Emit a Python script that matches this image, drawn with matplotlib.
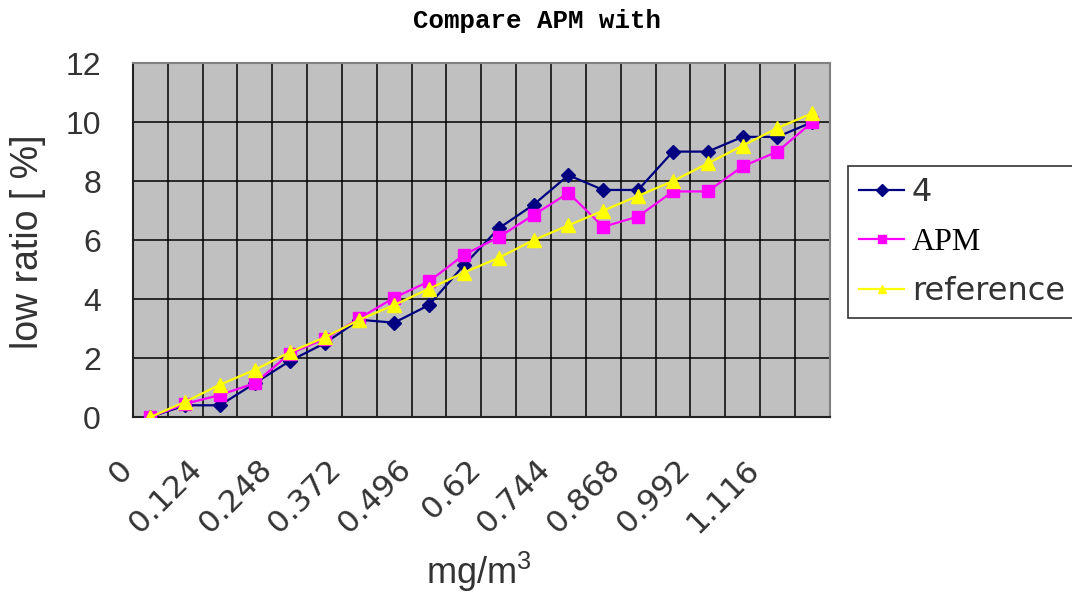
import matplotlib
matplotlib.use("Agg")
import matplotlib.pyplot as plt
import matplotlib.transforms as mtransforms
import numpy as np

plt.rcParams['font.family'] = ['Liberation Sans', 'DejaVu Sans']
plt.rcParams['mathtext.default'] = 'regular'

# concentration categories (mg/m3), 20 steps of 0.062
categories = [0, 0.062, 0.124, 0.186, 0.248, 0.31, 0.372, 0.434, 0.496, 0.558,
              0.62, 0.682, 0.744, 0.806, 0.868, 0.93, 0.992, 1.054, 1.116, 1.178]
tick_labels = ['0', '0.124', '0.248', '0.372', '0.496', '0.62', '0.744',
               '0.868', '0.992', '1.116']

series_4 = [0, 0.4, 0.4, 1.15, 1.9, 2.5, 3.3, 3.2, 3.8, 5.15,
            6.4, 7.2, 8.2, 7.7, 7.7, 9.0, 9.0, 9.5, 9.5, 10.0]
series_apm = [0, 0.45, 0.75, 1.15, 2.15, 2.65, 3.35, 4.05, 4.6, 5.5,
              6.1, 6.85, 7.6, 6.45, 6.8, 7.65, 7.65, 8.5, 9.0, 10.0]
series_ref = [0, 0.52, 1.1, 1.6, 2.2, 2.7, 3.3, 3.8, 4.35, 4.9,
              5.4, 6.0, 6.5, 7.0, 7.5, 8.0, 8.6, 9.2, 9.8, 10.3]

x = np.arange(len(categories))

fig = plt.figure(figsize=(10.72, 6.01), dpi=100)
ax = fig.add_axes([0.124, 0.306, 0.650, 0.589])
ax.set_facecolor('#C0C0C0')

ax.plot(x, series_4, color='#000080', marker='D', markersize=7, lw=1.6, label='4', zorder=3)
ax.plot(x, series_apm, color='#FF00FF', marker='s', markersize=9, lw=1.6, label='APM', zorder=4)
ax.plot(x, series_ref, color='#FFFF00', marker='^', markersize=10, lw=1.6, label='reference', zorder=5)

ax.set_xlim(-0.5, len(categories) - 0.5)
ax.set_ylim(0, 12)
ax.set_yticks(np.arange(0, 13, 2))
ax.tick_params(axis='y', length=0, pad=23, labelsize=23, labelcolor='#333333')

# every other category gets a label
ax.set_xticks(x[::2])
ax.tick_params(axis='x', length=0, pad=27)
ax.set_xticklabels(tick_labels, rotation=45, ha='right', va='top',
                   rotation_mode='anchor', fontsize=22.5, color='#333333',
                   family='DejaVu Sans')
# rotated labels end a little left of their category
shift = mtransforms.ScaledTranslation(-0.33, 0, fig.dpi_scale_trans)
for lab in ax.get_xticklabels():
    lab.set_transform(lab.get_transform() + shift)

# grid: horizontal at major y, vertical between categories
for yv in np.arange(2, 12, 2):
    ax.axhline(yv, color='black', lw=1.1, zorder=1)
for xv in np.arange(0.5, len(categories) - 0.5, 1):
    ax.axvline(xv, color='black', lw=1.1, zorder=1)

for side in ['top', 'right']:
    ax.spines[side].set_color('#808080')
    ax.spines[side].set_linewidth(1.5)
for side in ['left', 'bottom']:
    ax.spines[side].set_color('#222222')
    ax.spines[side].set_linewidth(1.5)

ax.set_ylabel('low ratio [ %]', fontsize=27, color='#333333')
ax.yaxis.set_label_coords(-0.125, 0.494)
ax.set_xlabel('mg/m$^3$', fontsize=26, color='#333333')
ax.xaxis.set_label_coords(0.496, -0.375)

fig.text(0.501, 0.965, 'Compare APM with', ha='center', va='center',
         fontsize=18.5, family='Liberation Mono', fontweight='bold')

leg = ax.legend(loc='upper left', bbox_to_anchor=(848 / 1072, 1 - 166 / 601),
                bbox_transform=fig.transFigure, fontsize=23, frameon=True,
                fancybox=False, edgecolor='black', handlelength=1.4,
                handletextpad=0.25, borderaxespad=0, labelspacing=0.6,
                borderpad=0.35)
leg.get_frame().set_linewidth(1.2)
for t in leg.get_texts():
    t.set_color('#333333')
    t.set_family('DejaVu Sans')
leg.get_texts()[1].set_family('Liberation Serif')
leg.get_texts()[1].set_color('black')
for h in leg.legend_handles:
    h.set_markersize(6)

fig.savefig('out.png', dpi=100)
